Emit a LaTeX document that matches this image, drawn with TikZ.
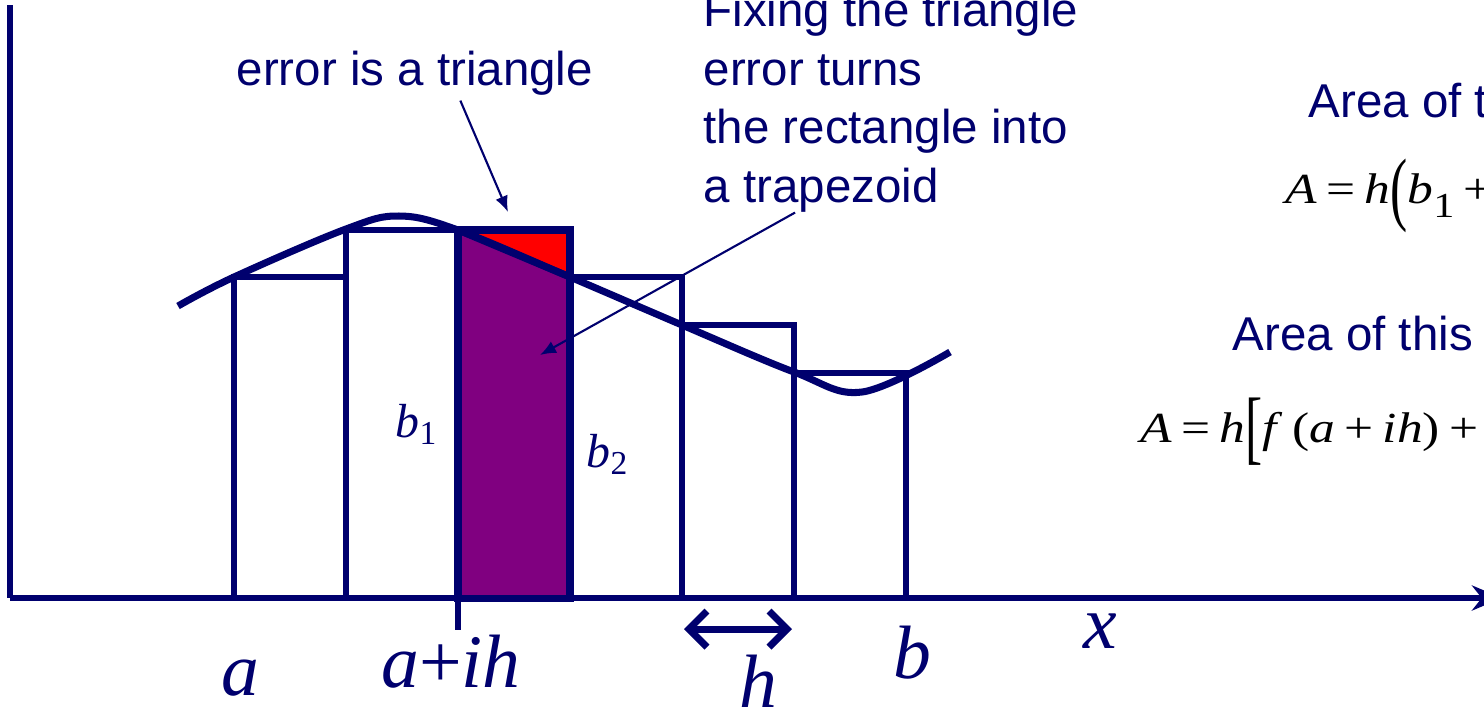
\documentclass[tikz,border=0pt]{standalone}
\usepackage{fontspec}
\usepackage{graphicx}
\setmainfont{Liberation Sans}
\newfontfamily\tms{Liberation Serif}
\usetikzlibrary{arrows.meta}
\definecolor{navy}{RGB}{0,0,110}
\definecolor{trappurple}{RGB}{128,0,128}
\newcommand{\tallfence}[1]{\raisebox{-0.3em}{\scalebox{1}[1.9]{#1}}}
\newcommand{\rel}[1]{\hspace{0.18em}#1\hspace{0.18em}}
\newcommand{\lowsub}[1]{\raisebox{-0.33em}{\fontsize{10}{10}\selectfont\upshape #1}}
\newcommand{\widen}[1]{\scalebox{1.2}[1]{#1}}

\begin{document}
\begin{tikzpicture}[
    x=0.01cm, y=-0.01cm,
    >={Latex[length=1.6mm,width=1.3mm]},
    note/.style={text=navy, inner sep=0pt, align=left,
                 font=\fontsize{13.5}{16.6}\selectfont},
    mathlab/.style={text=navy, inner sep=0pt,
                    font=\tms\fontsize{13.6}{16}\selectfont\itshape},
    axislab/.style={text=navy, inner sep=0pt,
                    font=\tms\fontsize{21.5}{24}\selectfont\itshape},
    formula/.style={text=black, inner sep=0pt,
                    font=\tms\fontsize{12.2}{14}\selectfont},
    box/.style={draw=navy, line width=1.8pt, fill=white},
    curve/.style={draw=navy, line width=2pt},
    pointer/.style={->, navy, line width=0.6pt},
  ]

  \useasboundingbox (0,0) rectangle (1484,714);
  \clip (0,0) rectangle (1484,714);
  \fill[white] (0,0) rectangle (1484,714);

  %% ---- axes ----------------------------------------------------------
  \draw[navy, line width=1.6pt] (10,5) -- (10,598);
  \draw[navy, line width=1.8pt, -{Stealth[length=3mm,width=2.5mm]}]
    (10,598) -- (1502,598);

  %% ---- rectangles (left end point rule) ------------------------------
  \foreach \xl/\yt in {234/277, 346/230, 570/277, 682/325, 794/373}
    \draw[box] (\xl,598) rectangle (\xl+112,\yt);

  %% ---- the trapezoid and its triangle error --------------------------
  \fill[trappurple] (458,598) -- (458,230) -- (570,277) -- (570,598) -- cycle;
  \fill[red] (458,230) -- (570,230) -- (570,277) -- cycle;
  \draw[navy, line width=2pt] (458,598) rectangle (570,230);
  \draw[navy, line width=2pt] (458,230) -- (570,277);

  %% ---- f(x) ----------------------------------------------------------
  \draw[curve] plot[smooth, tension=0.6] coordinates {
    (178,306) (234,277) (346,229) (399,216) (458,230) (570,277)
    (682,325) (794,372) (862,392) (950,352)};

  %% ---- tick and step width -------------------------------------------
  \draw[navy, line width=1.8pt] (458,598) -- (458,630);
  \coordinate (hL) at (684,629);
  \coordinate (hR) at (792,629);
  \draw[navy, line width=2pt,
        {Straight Barb[length=1.8mm,width=3.6mm]}-{Straight Barb[length=1.8mm,width=3.6mm]}]
    (hL) -- (hR);

  %% ---- labels --------------------------------------------------------
  \node[axislab, anchor=base] (la)   at (240,695) {a};
  \node[axislab, anchor=base] (laih) at (451,687) {a\upshape+\itshape ih};
  \node[axislab, anchor=base] (lh)   at (758,707) {h};
  \node[axislab, anchor=base] (lb)   at (912,678) {b};
  \node[axislab, anchor=base] (lx)   at (1100,648) {x};
  \node[mathlab, anchor=base west] (lb1) at (395,437) {b\textsubscript{\upshape 1}};
  \node[mathlab, anchor=base west] (lb2) at (586,467) {b\textsubscript{\upshape 2}};

  %% ---- notes and pointers --------------------------------------------
  \node[note, anchor=base west] (err) at (236,85) {error is a triangle};
  \node[note, anchor=base west] (fix) at (703,202)
    {Fixing the triangle\\ error turns\\ the rectangle into\\ a trapezoid};
  \coordinate (errtip)  at (508,212);
  \coordinate (traptip) at (540,355);
  \draw[pointer] ([xshift=0.455cm,yshift=-0.05cm]err.south) -- (errtip);
  \draw[pointer] ([xshift=0.92cm]fix.south west) -- (traptip);

  %% ---- areas (right) -------------------------------------------------
  \node[note, anchor=base west] (atrap) at (1308,117) {Area of trapezoid};
  \node[formula, anchor=base west] (ftrap) at (1285,203)
    {\widen{\itshape A\upshape\rel{=}\itshape h\upshape\tallfence{(}\itshape b\lowsub{1}%
     \upshape\rel{+}\itshape b\lowsub{2}\upshape\tallfence{)}/2}};
  \node[note, anchor=base west] (athis) at (1232,350) {Area of this trapezoid};
  \node[formula, anchor=base west] (fthis) at (1140,442)
    {\widen{\itshape A\upshape\rel{=}\itshape h\upshape\tallfence{[}\itshape f\upshape\hspace{0.3em}(\itshape a%
     \upshape\rel{+}\itshape ih\upshape)\rel{+}\itshape f\upshape\hspace{0.3em}(\itshape a\upshape\rel{+}%
     (\itshape i\upshape+1)\itshape h\upshape)\tallfence{]}/2}};

\end{tikzpicture}
\end{document}
